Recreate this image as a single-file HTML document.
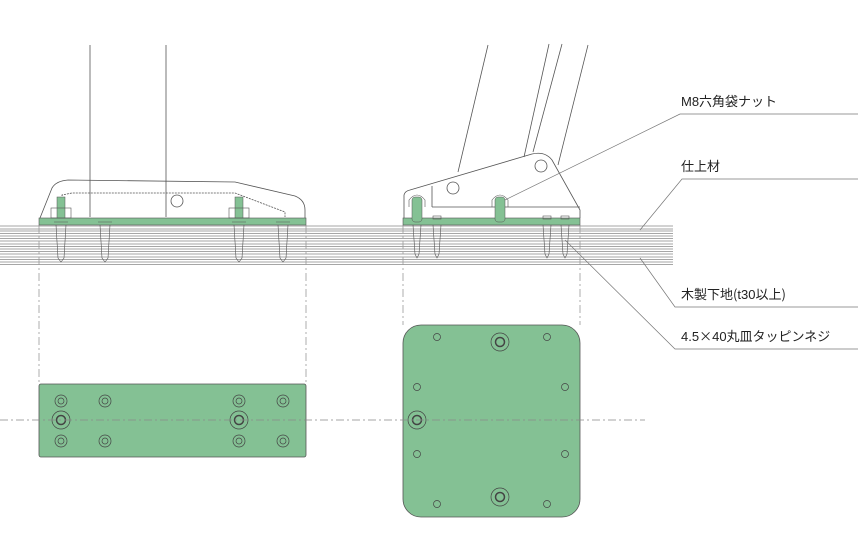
<!DOCTYPE html>
<html><head><meta charset="utf-8"><style>
html,body{margin:0;padding:0;background:#fff;}
svg{display:block;}
text{font-family:"Liberation Sans","Noto Sans CJK JP",sans-serif;font-size:13px;fill:#222;}
</style></head><body>
<svg width="858" height="553" viewBox="0 0 858 553" xmlns="http://www.w3.org/2000/svg">
<g stroke="#888" stroke-width="0.8" fill="none">
<line x1="0" y1="226" x2="673" y2="226"/><line x1="0" y1="229" x2="673" y2="229"/>
<line x1="0" y1="231" x2="673" y2="231"/><line x1="0" y1="233.5" x2="673" y2="233.5"/>
<line x1="0" y1="236" x2="673" y2="236"/><line x1="0" y1="238.5" x2="673" y2="238.5"/>
<line x1="0" y1="241" x2="673" y2="241"/><line x1="0" y1="244" x2="673" y2="244"/>
<line x1="0" y1="246.5" x2="673" y2="246.5"/><line x1="0" y1="249" x2="673" y2="249"/>
<line x1="0" y1="251.5" x2="673" y2="251.5"/><line x1="0" y1="254" x2="673" y2="254"/>
<line x1="0" y1="257" x2="673" y2="257"/><line x1="0" y1="259.5" x2="673" y2="259.5"/>
<line x1="0" y1="262" x2="673" y2="262"/><line x1="0" y1="264.5" x2="673" y2="264.5"/>
</g>
<g stroke="#999" stroke-width="0.8" stroke-dasharray="8,3,2,3" fill="none">
<line x1="39" y1="225" x2="39" y2="384"/><line x1="306" y1="225" x2="306" y2="384"/>
<line x1="403" y1="225" x2="403" y2="325"/><line x1="580" y1="225" x2="580" y2="325"/>
</g>
<rect x="39" y="384" width="267" height="73" rx="2" fill="#84c194" stroke="#555" stroke-width="0.8"/>
<rect x="403" y="325" width="177" height="192" rx="18" fill="#84c194" stroke="#555" stroke-width="0.8"/>
<g stroke="#444" stroke-width="0.7" fill="none">
<circle cx="61" cy="401" r="6"/><circle cx="61" cy="401" r="3"/>
<circle cx="105" cy="401" r="6"/><circle cx="105" cy="401" r="3"/>
<circle cx="239" cy="401" r="6"/><circle cx="239" cy="401" r="3"/>
<circle cx="283" cy="401" r="6"/><circle cx="283" cy="401" r="3"/>
<circle cx="61" cy="441" r="6"/><circle cx="61" cy="441" r="3"/>
<circle cx="105" cy="441" r="6"/><circle cx="105" cy="441" r="3"/>
<circle cx="239" cy="441" r="6"/><circle cx="239" cy="441" r="3"/>
<circle cx="283" cy="441" r="6"/><circle cx="283" cy="441" r="3"/>
<circle cx="61" cy="420" r="9"/><circle cx="61" cy="420" r="4.5" stroke-width="1.5"/>
<circle cx="239" cy="420" r="9"/><circle cx="239" cy="420" r="4.5" stroke-width="1.5"/>
<circle cx="437" cy="337" r="3.5"/><circle cx="547" cy="337" r="3.5"/>
<circle cx="417" cy="387" r="3.5"/><circle cx="565" cy="387" r="3.5"/>
<circle cx="417" cy="454" r="3.5"/><circle cx="565" cy="454" r="3.5"/>
<circle cx="437" cy="504" r="3.5"/><circle cx="547" cy="504" r="3.5"/>
<circle cx="500" cy="342" r="9"/><circle cx="500" cy="342" r="4.5" stroke-width="1.5"/>
<circle cx="417" cy="420" r="9"/><circle cx="417" cy="420" r="4.5" stroke-width="1.5"/>
<circle cx="500" cy="497" r="9"/><circle cx="500" cy="497" r="4.5" stroke-width="1.5"/>
</g>
<line x1="0" y1="420" x2="645" y2="420" stroke="#888" stroke-width="0.8" stroke-dasharray="8,3,2,3"/>
<g stroke="#555" stroke-width="0.8" fill="none">
<line x1="90" y1="45" x2="90" y2="217"/><line x1="166" y1="45" x2="166" y2="217"/>
<path d="M40,218 L52,188 Q56,181 68,180 L235,182 L295,196 Q305,200 305,210 L305,218"/>
<path d="M62,217 L62,195 L72,193 L235,193 L285,212 L285,217" stroke-dasharray="2,1"/>
<circle cx="177" cy="201" r="6"/>
</g>
<rect x="39" y="218" width="267" height="7" fill="#84c194" stroke="#555" stroke-width="0.6"/>
<g fill="#84c194" stroke="#555" stroke-width="0.5">
<rect x="57" y="197" width="8" height="21"/><rect x="235" y="197" width="8" height="21"/>
</g>
<g stroke="#555" stroke-width="0.6" fill="none">
<rect x="51" y="208" width="20" height="10"/><rect x="229" y="208" width="20" height="10"/>
<path d="M54,222 L68,222 M56,225 L58,258 L61,262 L64,258 L66,225"/>
<path d="M98,222 L112,222 M100,225 L102,258 L105,262 L108,258 L110,225"/>
<path d="M232,222 L246,222 M234,225 L236,258 L239,262 L242,258 L244,225"/>
<path d="M276,222 L290,222 M278,225 L280,258 L283,262 L286,258 L288,225"/>
</g>
<g stroke="#555" stroke-width="0.8" fill="none">
<line x1="488" y1="45" x2="458" y2="172"/>
<line x1="549" y1="44" x2="524" y2="157"/>
<line x1="562" y1="44" x2="533" y2="152"/>
<line x1="588" y1="45" x2="558" y2="165"/>
<path d="M404,218 L404,195 Q405,191 410,190 L532,154 Q545,151 552,160 L580,210 L580,218"/>
<line x1="432" y1="186" x2="432" y2="207"/>
<line x1="432" y1="207" x2="580" y2="207"/>
<circle cx="453" cy="188" r="6"/><circle cx="541" cy="166" r="6"/>
</g>
<rect x="403" y="218" width="177" height="7" fill="#84c194" stroke="#555" stroke-width="0.6"/>
<g fill="#84c194" stroke="#555" stroke-width="0.5">
<rect x="412" y="197" width="10" height="25" rx="3"/><rect x="495" y="197" width="10" height="25" rx="3"/>
</g>
<g stroke="#555" stroke-width="0.6" fill="none">
<path d="M409,207 L409,200 Q417,190 425,200 L425,207"/>
<path d="M492,207 L492,200 Q500,190 508,200 L508,207"/>
<path d="M413,225 L415,254 L417,258 L419,254 L421,225"/>
<path d="M433,225 L435,254 L437,258 L439,254 L441,225"/>
<path d="M543,225 L545,254 L547,258 L549,254 L551,225"/>
<path d="M561,225 L563,254 L565,258 L567,254 L569,225"/>
<rect x="433" y="216" width="8" height="3"/><rect x="543" y="216" width="8" height="3"/><rect x="561" y="216" width="8" height="3"/>
</g>
<g stroke="#777" stroke-width="0.7" fill="none">
<polyline points="505,200 680,114 858,114"/>
<polyline points="640,230 682,179 858,179"/>
<polyline points="640,258 675,307 858,307"/>
<polyline points="565,240 675,349 858,349"/>
</g>
<text x="681" y="106">M8六角袋ナット</text>
<text x="681" y="171">仕上材</text>
<text x="681" y="299">木製下地<tspan font-family="Noto Sans CJK JP, sans-serif">(</tspan>t30以上<tspan font-family="Noto Sans CJK JP, sans-serif">)</tspan></text>
<text x="681" y="341">4.5<tspan font-family="Noto Sans CJK JP, sans-serif">×</tspan>40丸皿タッピンネジ</text>
</svg>
</body></html>
